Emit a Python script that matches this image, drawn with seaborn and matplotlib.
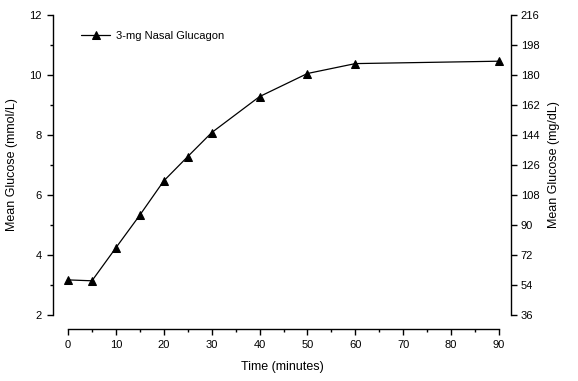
import numpy as np
import pandas as pd
import matplotlib
matplotlib.use("Agg")
import matplotlib.pyplot as plt
from matplotlib.ticker import MultipleLocator
import seaborn as sns

time_min = [0, 5, 10, 15, 20, 25, 30, 40, 50, 60, 90]
glucose_mmol = [3.17, 3.14, 4.24, 5.33, 6.47, 7.28, 8.08, 9.28, 10.05, 10.38, 10.46]
series_name = "3-mg Nasal Glucagon"
right_ticks = [36, 54, 72, 90, 108, 126, 144, 162, 180, 198, 216]

df = pd.DataFrame({"time": time_min, "glucose": glucose_mmol, "group": series_name})

sns.set_style("ticks")
plt.rcParams["font.family"] = ["Liberation Sans", "DejaVu Sans"]
plt.rcParams["text.color"] = "black"
plt.rcParams["axes.labelcolor"] = "black"
plt.rcParams["xtick.color"] = "black"
plt.rcParams["ytick.color"] = "black"

W, H = 578, 381
fig = plt.figure(figsize=(W / 100, H / 100), dpi=100)
# axes box in pixels: left 53, right 511, top 15, bottom 315
ax = fig.add_axes([53 / W, 1 - 315 / H, (511 - 53) / W, (315 - 15) / H])

sns.lineplot(data=df, x="time", y="glucose", hue="group", palette=["black"],
             marker="^", markersize=6, markeredgecolor="black", linewidth=0.9,
             ax=ax)

px = 431 / 90
ax.set_xlim(-15 / px, 90 + 12 / px)
ax.set_ylim(2, 12)

ax.spines["top"].set_visible(False)
ax.spines["right"].set_visible(False)
ax.spines["bottom"].set_position(("outward", 10))
ax.spines["bottom"].set_bounds(0, 90)
ax.spines["left"].set_bounds(2, 12)
for s in ["left", "bottom"]:
    ax.spines[s].set_linewidth(1.0)
    ax.spines[s].set_color("black")

ax.xaxis.set_major_locator(MultipleLocator(10))
ax.xaxis.set_minor_locator(MultipleLocator(5))
ax.yaxis.set_major_locator(MultipleLocator(2))
ax.yaxis.set_minor_locator(MultipleLocator(1))
ax.tick_params(which="major", length=4, width=1, labelsize=8, color="black", pad=4)
ax.tick_params(which="minor", length=2.5, width=1, color="black")

ax.set_xlabel("Time (minutes)", fontsize=9, labelpad=8)
ax.set_ylabel("Mean Glucose (mmol/L)", fontsize=9, labelpad=8)

ax2 = ax.twinx()
ax2.set_ylim(2 * 18, 12 * 18)
ax2.set_yticks(right_ticks)
for s in ["top", "left", "bottom"]:
    ax2.spines[s].set_visible(False)
ax2.spines["right"].set_bounds(36, 216)
ax2.spines["right"].set_linewidth(1.0)
ax2.spines["right"].set_color("black")
ax2.tick_params(which="major", length=4, width=1, labelsize=8, color="black", pad=3)
ax2.set_ylabel("Mean Glucose (mg/dL)", fontsize=9, labelpad=6)

ax.legend(loc="upper left", bbox_to_anchor=(0.04, 0.98), frameon=False,
          fontsize=8, handlelength=2.6, handletextpad=0.5)

fig.savefig("out.png", dpi=100)
